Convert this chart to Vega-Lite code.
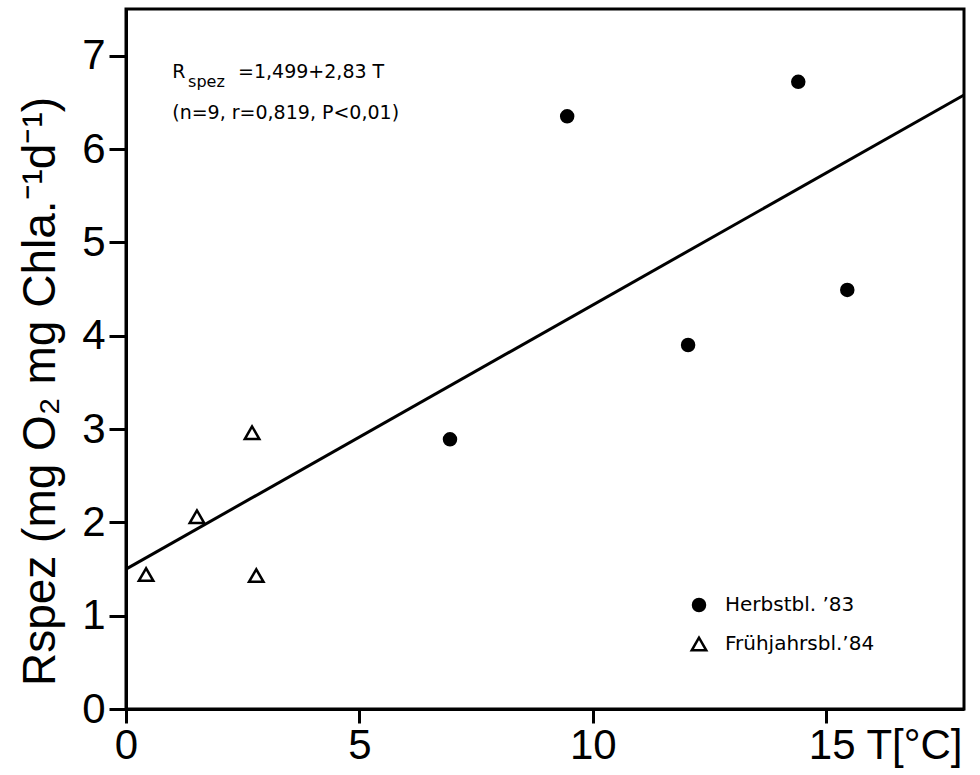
{
  "$schema": "https://vega.github.io/schema/vega-lite/v6.json",
  "width": 838,
  "height": 700,
  "autosize": {"type": "none"},
  "padding": {"left": 126, "top": 9, "right": 16, "bottom": 66},
  "background": "white",
  "config": {
    "view": {"stroke": "black", "strokeWidth": 3},
    "font": "Liberation Sans",
    "axis": {
      "domainColor": "black", "domainWidth": 3,
      "tickColor": "black", "tickWidth": 3,
      "grid": false,
      "labelColor": "black", "labelFont": "Liberation Sans", "labelFontSize": 42,
      "titleColor": "black", "titleFont": "Liberation Sans", "titleFontWeight": "normal"
    },
    "legend": {
      "labelFont": "DejaVu Sans", "labelFontSize": 20, "labelColor": "black",
      "symbolStrokeWidth": 2.5,
      "rowPadding": 16, "labelOffset": 16, "padding": 0
    }
  },
  "datasets": {
    "fit": [
      {"T": 0, "R": 1.499},
      {"T": 17.95, "R": 6.579}
    ],
    "obs": [
      {"T": 0.43, "R": 1.44, "Serie": "Frühjahrsbl.’84"},
      {"T": 1.52, "R": 2.06, "Serie": "Frühjahrsbl.’84"},
      {"T": 2.70, "R": 2.96, "Serie": "Frühjahrsbl.’84"},
      {"T": 2.79, "R": 1.43, "Serie": "Frühjahrsbl.’84"},
      {"T": 6.94, "R": 2.89, "Serie": "Herbstbl. ’83"},
      {"T": 9.45, "R": 6.35, "Serie": "Herbstbl. ’83"},
      {"T": 12.04, "R": 3.90, "Serie": "Herbstbl. ’83"},
      {"T": 14.40, "R": 6.72, "Serie": "Herbstbl. ’83"},
      {"T": 15.45, "R": 4.49, "Serie": "Herbstbl. ’83"}
    ],
    "ann": [
      {"T": 0.99, "R": 6.82, "text": "R"},
      {"T": 2.40, "R": 6.82, "text": "=1,499+2,83 T"},
      {"T": 0.99, "R": 6.39, "text": "(n=9, r=0,819, P<0,01)"}
    ],
    "sub": [
      {"T": 1.33, "R": 6.72, "text": "spez"}
    ]
  },
  "encoding": {
    "x": {
      "field": "T", "type": "quantitative",
      "scale": {"domain": [0, 17.95], "nice": false, "zero": false},
      "axis": {
        "title": null,
        "values": [0, 5, 10, 15],
        "tickSize": 14,
        "labelPadding": 2,
        "labelFlush": false,
        "labelOverlap": false,
        "labelBound": false,
        "labelExpr": "datum.value == 15 ? '15 T[°C]' : datum.label",
        "labelAlign": {"condition": {"test": "datum.value == 15", "value": "left"}, "value": "center"},
        "labelOffset": {"condition": {"test": "datum.value == 15", "value": -18}, "value": 0}
      }
    },
    "y": {
      "field": "R", "type": "quantitative",
      "scale": {"domain": [0, 7.5], "nice": false, "zero": false},
      "axis": {
        "title": "Rspez (mg O₂ mg Chla.⁻¹d⁻¹)",
        "titleFontSize": 46,
        "titlePadding": 17,
        "titleY": 382,
        "values": [0, 1, 2, 3, 4, 5, 6, 7],
        "tickSize": 17,
        "labelPadding": 4
      }
    }
  },
  "layer": [
    {
      "data": {"name": "fit"},
      "mark": {"type": "line", "color": "black", "strokeWidth": 3}
    },
    {
      "data": {"name": "obs"},
      "mark": {"type": "point", "strokeWidth": 2.5, "opacity": 1},
      "encoding": {
        "stroke": {
          "field": "Serie", "type": "nominal",
          "scale": {"domain": ["Herbstbl. ’83", "Frühjahrsbl.’84"], "range": ["black", "black"]},
          "legend": {"title": null, "orient": "none", "legendX": 563, "legendY": 586}
        },
        "shape": {
          "field": "Serie", "type": "nominal",
          "scale": {"domain": ["Herbstbl. ’83", "Frühjahrsbl.’84"], "range": ["circle", "triangle-up"]},
          "legend": {"title": null, "orient": "none", "legendX": 563, "legendY": 586}
        },
        "fill": {
          "field": "Serie", "type": "nominal",
          "scale": {"domain": ["Herbstbl. ’83", "Frühjahrsbl.’84"], "range": ["black", "white"]},
          "legend": {"title": null, "orient": "none", "legendX": 563, "legendY": 586}
        },
        "size": {
          "field": "Serie", "type": "nominal",
          "scale": {"domain": ["Herbstbl. ’83", "Frühjahrsbl.’84"], "range": [144, 210]},
          "legend": {"title": null, "orient": "none", "legendX": 563, "legendY": 586}
        }
      }
    },
    {
      "data": {"name": "ann"},
      "mark": {"type": "text", "align": "left", "baseline": "middle", "fontSize": 19, "color": "black", "font": "DejaVu Sans"},
      "encoding": {"text": {"field": "text"}}
    },
    {
      "data": {"name": "sub"},
      "mark": {"type": "text", "align": "left", "baseline": "middle", "fontSize": 16, "color": "black", "font": "DejaVu Sans"},
      "encoding": {"text": {"field": "text"}}
    }
  ]
}
